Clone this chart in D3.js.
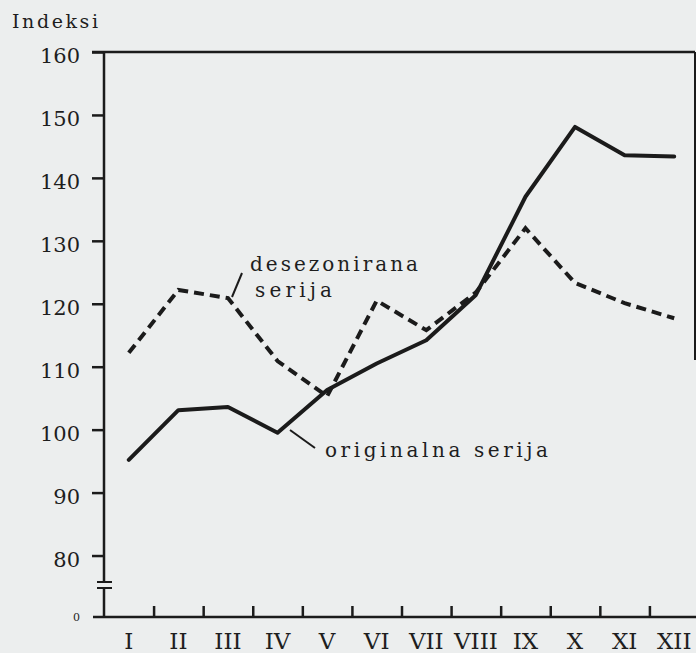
<!DOCTYPE html>
<html>
<head>
<meta charset="utf-8">
<script src="https://cdn.jsdelivr.net/npm/d3@7"></script>
<style>
  html, body { margin: 0; padding: 0; background: #eceeee; }
  svg { display: block; }
  text { fill: #1e1e1e; font-family: "DejaVu Serif", "Liberation Serif", serif; }
</style>
</head>
<body>
<div id="chart"></div>
<script>
// Indeksi po mesecih
const months = ["I", "II", "III", "IV", "V", "VI", "VII", "VIII", "IX", "X", "XI", "XII"];
const original = [95.2, 103.1, 103.6, 99.5, 106.3, 110.5, 114.2, 121.4, 137.0, 148.1, 143.6, 143.4];
const deseason = [112.2, 122.2, 120.9, 110.9, 105.3, 120.5, 115.8, 121.8, 132.0, 123.3, 120.1, 117.7];
const yTicks = [80, 90, 100, 110, 120, 130, 140, 150, 160];

const svgWidth = 696;
const svgHeight = 653;

const svg = d3.select("#chart")
    .append("svg")
    .attr("width", svgWidth)
    .attr("height", svgHeight);

// scales - y has a break between 0 and 80
const x = d3.scaleBand()
    .domain(months)
    .range([104, 699]);

const xEdge = d3.scaleLinear()
    .domain([0, 12])
    .range([104, 699]);

const y = d3.scaleLinear()
    .domain([0, 75, 160])
    .range([617, 587, 52]);

const ink = "#1b1b1b";

// y axis ticks + labels
const yAxis = svg.append("g")
    .attr("transform", "translate(104,0)")
    .call(d3.axisLeft(y).tickValues(yTicks).tickSize(12).tickPadding(12));
yAxis.select(".domain").remove();
yAxis.selectAll("line").attr("stroke", ink).attr("stroke-width", 2.5);
yAxis.selectAll("text")
    .attr("dy", "0.5em")
    .style("font-size", "21px")
    .attr("fill", ink);

// the "0" at the bottom
svg.append("text")
    .attr("x", 80)
    .attr("y", y(0) + 4)
    .attr("text-anchor", "end")
    .style("font-size", "11px")
    .text("0");

// x axis: tick marks on month boundaries, labels in the middle
const xTicks = svg.append("g")
    .attr("transform", `translate(0,${y(0)})`)
    .call(d3.axisTop(xEdge).tickValues(d3.range(1, 12)).tickSize(11).tickFormat(""));
xTicks.select(".domain").remove();
xTicks.selectAll("line").attr("stroke", ink).attr("stroke-width", 2.5);

const xLabels = svg.append("g")
    .attr("transform", `translate(0,${y(0)})`)
    .call(d3.axisBottom(x).tickSize(0).tickPadding(16));
xLabels.select(".domain").remove();
xLabels.selectAll("text")
    .attr("dy", "0.71em")
    .style("font-size", "23px")
    .attr("fill", ink);

// frame and axis lines
const frame = svg.append("g")
    .attr("stroke", ink)
    .attr("fill", "none")
    .attr("stroke-width", 2.5);
frame.append("line").attr("x1", 92).attr("x2", 695).attr("y1", y(160)).attr("y2", y(160));
frame.append("line").attr("x1", 695).attr("x2", 695).attr("y1", y(160)).attr("y2", 360).attr("stroke-width", 2);
frame.append("line").attr("x1", 93).attr("x2", 696).attr("y1", y(0)).attr("y2", y(0));
frame.append("line").attr("x1", 104).attr("x2", 104).attr("y1", y(160)).attr("y2", 582);
frame.append("line").attr("x1", 104).attr("x2", 104).attr("y1", 588).attr("y2", y(0));
// break marks
frame.append("line").attr("x1", 97).attr("x2", 112).attr("y1", 582).attr("y2", 582).attr("stroke-width", 2);
frame.append("line").attr("x1", 97).attr("x2", 112).attr("y1", 588).attr("y2", 588).attr("stroke-width", 2);

// lines
const line = d3.line()
    .x((d, i) => x(months[i]) + x.bandwidth() / 2)
    .y(d => y(d));

svg.append("path")
    .datum(deseason)
    .attr("d", line)
    .attr("fill", "none")
    .attr("stroke", ink)
    .attr("stroke-width", 4)
    .attr("stroke-dasharray", "10,6");

svg.append("path")
    .datum(original)
    .attr("d", line)
    .attr("fill", "none")
    .attr("stroke", ink)
    .attr("stroke-width", 4)
    .attr("stroke-linejoin", "round")
    .attr("stroke-linecap", "round");

// labels with leader lines
const labelFont = "20px";
svg.append("text")
    .attr("x", 250).attr("y", 271)
    .attr("textLength", 168).attr("lengthAdjust", "spacing")
    .style("font-size", labelFont)
    .text("desezonirana");
svg.append("text")
    .attr("x", 255).attr("y", 297)
    .attr("textLength", 77).attr("lengthAdjust", "spacing")
    .style("font-size", labelFont)
    .text("serija");
svg.append("line")
    .attr("x1", 232).attr("y1", 297).attr("x2", 242).attr("y2", 273)
    .attr("stroke", ink).attr("stroke-width", 2);

svg.append("text")
    .attr("x", 325).attr("y", 457)
    .attr("textLength", 223).attr("lengthAdjust", "spacing")
    .style("font-size", labelFont)
    .text("originalna serija");
svg.append("line")
    .attr("x1", 290).attr("y1", 430).attr("x2", 315).attr("y2", 448)
    .attr("stroke", ink).attr("stroke-width", 2);

// axis title
svg.append("text")
    .attr("x", 12).attr("y", 28)
    .attr("textLength", 86).attr("lengthAdjust", "spacing")
    .style("font-size", "19px")
    .text("Indeksi");
</script>
</body>
</html>
